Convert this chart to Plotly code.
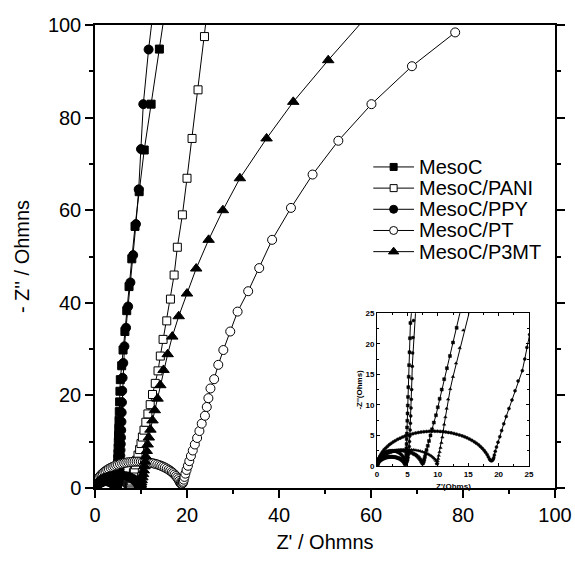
import plotly.graph_objects as go

# ---------------- data ----------------
names = ["MesoC", "MesoC/PANI", "MesoC/PPY", "MesoC/PT", "MesoC/P3MT"]

mesoc_x = [0.03, 0.08, 0.15, 0.25, 0.37, 0.5, 0.65, 0.8, 0.95, 1.1, 1.27, 1.45, 1.63, 1.81, 2.0, 2.2, 2.4, 2.6, 2.8,
           3.0, 3.2, 3.4, 3.58, 3.76, 3.93, 4.08, 4.22, 4.35, 4.46, 4.56, 4.64,
           4.72, 4.76, 4.78, 4.79, 4.81, 4.82, 4.84, 4.87, 4.89, 4.92, 4.95, 4.99, 5.03, 5.07, 5.11, 5.16, 5.22, 5.28,
           5.35, 5.42, 5.5, 5.8, 6.1, 6.5, 6.9, 7.4, 8.0, 8.7, 9.6, 10.7, 12.2, 14.0, 15.8]
mesoc_y = [0.05, 0.24, 0.44, 0.61, 0.76, 0.89, 1.01, 1.11, 1.19, 1.26, 1.32, 1.38, 1.42, 1.46, 1.48, 1.5, 1.5, 1.49, 1.47,
           1.44, 1.39, 1.33, 1.27, 1.19, 1.09, 0.99, 0.87, 0.74, 0.6, 0.42, 0.3,
           0.4, 0.6, 0.9, 1.3, 1.8, 2.3, 2.9, 3.6, 4.4, 5.3, 6.3, 7.4, 8.6, 9.9, 11.3, 12.9, 14.6, 16.5,
           18.6, 20.9, 23.4, 26.4, 29.8, 33.8, 38.3, 43.5, 49.5, 56.5, 64.0, 73.0, 82.9, 94.8, 107.0]

pani_x = [0.05, 0.12, 0.22, 0.35, 0.5, 0.68, 0.88, 1.1, 1.35, 1.6, 1.87, 2.15, 2.45, 2.75, 3.05, 3.35, 3.65, 3.95,
          4.25, 4.55, 4.85, 5.15, 5.45, 5.73, 6.0, 6.25, 6.5, 6.72, 6.92, 7.1, 7.25, 7.38, 7.5,
          7.6, 7.7, 7.78, 7.88, 8.0, 8.15, 8.35, 8.55, 8.8, 9.05, 9.35, 9.7, 10.0, 10.3, 10.65, 11.05, 11.5, 12.0, 12.5,
          13.1, 13.7, 14.2, 14.8, 15.6, 16.4, 17.2, 17.9, 19.0, 20.0, 21.1, 22.4, 23.8, 25.0]
pani_y = [0.1, 0.49, 0.76, 1.01, 1.22, 1.42, 1.61, 1.78, 1.94, 2.08, 2.2, 2.3, 2.39, 2.46, 2.5, 2.54, 2.55, 2.55,
          2.53, 2.49, 2.43, 2.36, 2.26, 2.15, 2.02, 1.88, 1.71, 1.52, 1.32, 1.08, 0.83, 0.6, 0.4,
          0.55, 0.8, 1.1, 1.5, 2.0, 2.6, 3.3, 4.1, 5.0, 6.0, 7.1, 8.3, 9.6, 11.0, 12.5, 14.2, 16.0, 18.0, 20.2,
          22.6, 25.3, 28.5, 32.1, 36.1, 40.8, 46.0, 52.0, 59.0, 66.9, 75.5, 86.0, 97.5, 108.0]

ppy_x = [0.02, 0.06, 0.12, 0.2, 0.3, 0.42, 0.56, 0.72, 0.9, 1.08, 1.27, 1.47, 1.67, 1.88, 2.1, 2.32, 2.54, 2.76, 2.98,
         3.2, 3.42, 3.63, 3.83, 4.02, 4.2, 4.36, 4.5, 4.62, 4.72, 4.8,
         4.95, 5.05, 5.12, 5.18, 5.24, 5.3, 5.35, 5.4, 5.45, 5.5, 5.55, 5.6, 5.65, 5.7, 5.75, 5.8, 5.86, 5.92, 6.0,
         6.15, 6.4, 6.75, 7.2, 7.7, 8.3, 8.9, 9.5, 10.0, 10.5, 11.65, 13.0]
ppy_y = [0.32, 0.56, 0.78, 1.0, 1.21, 1.41, 1.61, 1.79, 1.95, 2.09, 2.21, 2.3, 2.38, 2.44, 2.48, 2.5, 2.5, 2.47, 2.43,
         2.36, 2.26, 2.15, 2.01, 1.84, 1.65, 1.44, 1.21, 0.95, 0.64, 0.45,
         0.7, 1.0, 1.4, 1.9, 2.5, 3.2, 4.0, 4.9, 5.9, 7.0, 8.2, 9.5, 10.9, 12.5, 14.3, 16.3, 18.5, 21.0, 23.8,
         27.0, 30.6, 34.6, 39.2, 44.4, 50.3, 57.0, 64.5, 73.2, 82.9, 94.7, 106.0]

pt_x = [0.1, 0.2, 0.35, 0.5, 0.7, 0.9, 1.15, 1.4, 1.7, 2.0, 2.3, 2.65, 3.0, 3.4, 3.8, 4.2, 4.6, 5.0, 5.45, 5.9,
        6.35, 6.8, 7.25, 7.7, 8.15, 8.6, 9.05, 9.5, 9.95, 10.4, 10.85, 11.3, 11.75, 12.2, 12.65, 13.1, 13.55, 14.0,
        14.4, 14.8, 15.2, 15.6, 16.0, 16.35, 16.7, 17.0, 17.3, 17.6, 17.85, 18.1, 18.3, 18.5, 18.65, 18.8, 18.95,
        19.1, 19.2, 19.3, 19.45, 19.65, 19.9, 20.2, 20.5, 20.85, 21.25, 21.7, 22.2, 22.7, 23.2, 23.9, 24.3, 24.65,
        25.1, 25.9, 26.8, 27.9, 29.4, 31.0, 33.3, 35.7, 38.5, 42.6, 47.3, 52.9, 60.1, 68.9, 78.3]
pt_y = [0.15, 0.84, 1.32, 1.66, 2.02, 2.32, 2.64, 2.91, 3.2, 3.46, 3.69, 3.93, 4.14, 4.36, 4.56, 4.73, 4.89, 5.03, 5.17, 5.29,
        5.39, 5.48, 5.55, 5.61, 5.65, 5.68, 5.7, 5.7, 5.69, 5.66, 5.62, 5.57, 5.5, 5.42, 5.32, 5.21, 5.08, 4.93,
        4.78, 4.61, 4.42, 4.2, 3.96, 3.73, 3.46, 3.2, 2.91, 2.58, 2.25, 1.9, 1.5, 1.15, 0.95, 0.85, 0.9,
        1.1, 1.35, 1.8, 2.4, 3.1, 3.9, 4.8, 5.8, 6.9, 8.1, 9.4, 10.8, 12.3, 13.9, 15.6, 17.5, 19.4,
        21.5, 23.5, 26.6, 29.8, 33.8, 38.1, 42.5, 47.5, 53.6, 60.5, 67.7, 75.0, 82.9, 91.1, 98.4]

p3mt_x = [0.05, 0.15, 0.3, 0.5, 0.72, 0.98, 1.26, 1.56, 1.88, 2.2, 2.55, 2.9, 3.25, 3.6, 3.95, 4.3, 4.65, 5.0, 5.35,
          5.7, 6.05, 6.4, 6.75, 7.1, 7.45, 7.78, 8.1, 8.4, 8.68, 8.93, 9.16, 9.36, 9.54, 9.7, 9.82, 9.88,
          9.93, 9.97, 10.05, 10.15, 10.3, 10.45, 10.6, 10.75, 10.9, 11.05, 11.25, 11.45, 11.7, 12.05, 12.5, 13.0, 13.6,
          14.2, 14.9, 15.8, 16.8, 18.2, 20.0, 22.0, 24.7, 27.8, 31.5, 37.3, 43.1, 50.7, 61.0]
p3mt_y = [0.05, 0.54, 0.85, 1.12, 1.36, 1.58, 1.77, 1.94, 2.1, 2.23, 2.35, 2.44, 2.53, 2.59, 2.64, 2.67, 2.69, 2.7, 2.69,
          2.67, 2.64, 2.59, 2.53, 2.44, 2.35, 2.23, 2.1, 1.96, 1.81, 1.64, 1.46, 1.28, 1.08, 0.85, 0.5, 0.3,
          0.5, 0.8, 1.2, 1.7, 2.3, 3.0, 3.8, 4.7, 5.7, 6.8, 8.0, 9.4, 10.9, 12.6, 14.6, 16.8, 19.3,
          22.2, 25.5, 28.9, 32.7, 37.1, 42.0, 47.4, 53.6, 60.0, 66.9, 75.5, 83.4, 92.4, 104.0]

xs = [mesoc_x, pani_x, ppy_x, pt_x, p3mt_x]
ys = [mesoc_y, pani_y, ppy_y, pt_y, p3mt_y]

main_ticks = [0, 20, 40, 60, 80, 100]
inset_ticks = [0, 5, 10, 15, 20, 25]

# ---------------- styles ----------------
symbols = ["square", "square", "circle", "circle", "triangle-up"]
fills = ["black", "white", "black", "white", "black"]
sizes = [8, 8, 9, 9, 10]
leg_sizes = [7, 7, 8, 8, 9]
FONT = "Liberation Sans, Arial, sans-serif"

fig = go.Figure()
for n, x, y, s, f, sz in zip(names, xs, ys, symbols, fills, sizes):
    fig.add_trace(go.Scatter(
        x=x, y=y, name=n, mode="lines+markers", showlegend=False,
        line=dict(color="black", width=1),
        marker=dict(symbol=s, size=sz, color=f, line=dict(color="black", width=1)),
    ))
for n, x, y, s in zip(names, xs, ys, symbols):
    fig.add_trace(go.Scatter(
        x=x, y=y, name=n, mode="lines+markers", showlegend=False,
        xaxis="x2", yaxis="y2",
        line=dict(color="black", width=1),
        marker=dict(symbol=s, size=3, color="black", line=dict(color="black", width=0.5)),
    ))

# legend drawn as small samples on a hidden helper axis (one row per series)
annotations = []
for i, (n, s, f, sz) in enumerate(zip(names, symbols, fills, leg_sizes)):
    fig.add_trace(go.Scatter(x=[0, 1], y=[i, i], mode="lines", xaxis="x3", yaxis="y3",
                             showlegend=False, hoverinfo="skip",
                             line=dict(color="black", width=1)))
    fig.add_trace(go.Scatter(x=[0.5], y=[i], mode="markers", xaxis="x3", yaxis="y3",
                             showlegend=False, hoverinfo="skip",
                             marker=dict(symbol=s, size=sz, color=f, line=dict(color="black", width=1))))
    annotations.append(dict(text=n, x=1, y=i, xref="x3", yref="y3", xshift=3,
                            showarrow=False, xanchor="left", yanchor="middle",
                            font=dict(family=FONT, size=20, color="black")))

axis_common = dict(
    showgrid=False, zeroline=False, linecolor="black", linewidth=1.5, automargin=False,
    ticks="outside", ticklen=8, tickwidth=1.5, tickcolor="black",
    tickfont=dict(family=FONT, size=20, color="black"),
)
inset_common = dict(
    showgrid=False, zeroline=False, linecolor="black", linewidth=1, mirror="ticks", automargin=False,
    ticks="inside", ticklen=3, tickcolor="black", range=[0, 25], tickvals=inset_ticks,
    minor=dict(dtick=2.5, ticklen=2, ticks="inside", tickcolor="black"),
    tickfont=dict(family=FONT, size=8, color="black", weight="bold"),
)
hidden = dict(visible=False, showgrid=False, zeroline=False, fixedrange=True, automargin=False)

annotations += [
    dict(text="Z'(Ohms)", x=12.5, y=0, xref="x2", yref="paper", yshift=2,
         showarrow=False, font=dict(family=FONT, size=8, color="black", weight="bold"),
         xanchor="center", yanchor="middle"),
    dict(text="-Z''(Ohms)", x=0, y=12.5, xref="x2", yref="y2", xshift=-17, textangle=-90,
         showarrow=False, font=dict(family=FONT, size=8, color="black", weight="bold"),
         xanchor="center", yanchor="middle"),
]

fig.update_layout(
    width=575, height=561,
    margin=dict(l=95, r=20, t=25, b=73),
    paper_bgcolor="white", plot_bgcolor="white",
    font=dict(family=FONT, color="black"),
    showlegend=False,
    xaxis=dict(range=[0, 100], tickvals=main_ticks, mirror=True,
               minor=dict(dtick=10, ticklen=4, tickwidth=1.5, tickcolor="black", ticks="outside"),
               title=dict(text="Z' / Ohmns", font=dict(family=FONT, size=20), standoff=10),
               **axis_common),
    yaxis=dict(range=[0, 100], tickvals=main_ticks, mirror="ticks",
               minor=dict(dtick=10, ticklen=4, tickwidth=1.5, tickcolor="black", ticks="outside"),
               title=dict(text="- Z'' / Ohmns", font=dict(family=FONT, size=20), standoff=13),
               **axis_common),
    xaxis2=dict(domain=[0.613, 0.9435], anchor="y2", **inset_common),
    yaxis2=dict(domain=[0.0475, 0.3776], anchor="x2", **inset_common),
    xaxis3=dict(domain=[0.6047, 0.6937], anchor="y3", range=[0, 1], **hidden),
    yaxis3=dict(domain=[0.4876, 0.7163], anchor="x3", range=[4.5, -0.5], **hidden),
    annotations=annotations,
)

fig.write_html("out.html", config={"displayModeBar": False},
               post_script="document.body.style.margin='0';document.body.style.overflow='hidden';")
